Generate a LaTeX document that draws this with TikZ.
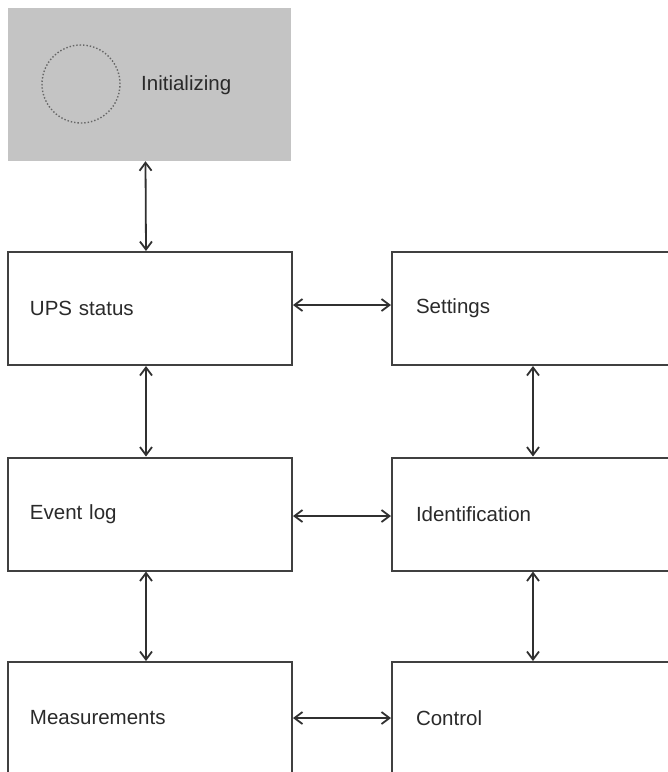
\documentclass[tikz,border=0pt]{standalone}
\usepackage{fontspec}
\setmainfont{Liberation Sans}
\usetikzlibrary{arrows.meta}
\definecolor{boxline}{HTML}{404040}
\definecolor{arrowc}{HTML}{303030}
\definecolor{txt}{HTML}{2A2A2A}
\definecolor{initfill}{HTML}{C4C4C4}
\tikzset{
  box/.style={draw=boxline, line width=2pt, fill=white, inner xsep=22pt, inner ysep=0pt,
    align=left, font=\fontsize{20.5}{24}\selectfont, text=txt},
  lbox/.style={box, minimum height=113pt, text width=240pt},
  rbox/.style={box, minimum height=113pt, text width=254pt, inner xsep=24pt},
  conn/.style={draw=arrowc, line width=1.8pt, {Straight Barb[length=8pt,width=12pt]}-{Straight Barb[length=8pt,width=12pt]}},
}
\begin{document}
\begin{tikzpicture}[x=1pt,y=-1pt]
\useasboundingbox (0,0) rectangle (668,772);
\clip (0,0) rectangle (668,772);
% initializing
\node[fill=initfill, minimum width=283pt, minimum height=153pt, inner sep=0pt] (init) at (149.5,84.5) {};
\node[draw=black!60, dotted, line width=1.4pt, circle, minimum size=78pt, inner sep=0pt] (circ) at (81,84) {};
\node[anchor=west, font=\fontsize{20.5}{24}\selectfont, text=txt, inner sep=0pt] (inittxt) at (141,85) {Initializing};
% boxes
\node[lbox] (ups) at (150,308.5) {UPS status};
\node[rbox] (set) at (543,308.5) {Settings};
\node[lbox] (evt) at (150,514) {Event log};
\node[rbox] (ide) at (543,514) {Identification};
\node[lbox, minimum height=112pt] (mea) at (150,718) {Measurements};
\node[rbox, minimum height=112pt] (ctl) at (543,718) {Control};
% connectors
\draw[conn] ([xshift=-4pt]init.south) -- ([xshift=-4pt]ups.north);
\draw[conn] ([xshift=-4pt]ups.south) -- ([xshift=-4pt]evt.north);
\draw[conn] ([xshift=-4pt]evt.south) -- ([xshift=-4pt]mea.north);
\draw[conn] ([xshift=-10pt]set.south) -- ([xshift=-10pt]ide.north);
\draw[conn] ([xshift=-10pt]ide.south) -- ([xshift=-10pt]ctl.north);
\draw[conn] ([yshift=3.5pt]ups.east) -- ([yshift=3.5pt]set.west);
\draw[conn] ([yshift=-2pt]evt.east) -- ([yshift=-2pt]ide.west);
\draw[conn] (mea.east) -- (ctl.west);
\end{tikzpicture}
\end{document}
